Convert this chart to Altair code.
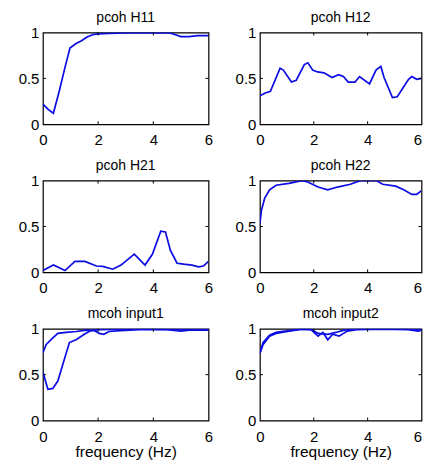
import altair as alt
import pandas as pd

# ---- data ----
freq_h11 = [0, 0.2, 0.38, 0.6, 0.8, 0.98, 1.2, 1.4, 1.6, 1.8, 2.0, 2.4, 3.0, 4.0, 4.6, 4.8, 5.0, 5.3, 5.6, 6.0]
coh_h11 = [0.22, 0.16, 0.12, 0.37, 0.62, 0.83, 0.88, 0.91, 0.95, 0.975, 0.985, 0.99, 0.995, 0.995, 0.995, 0.975, 0.955, 0.955, 0.965, 0.965]

freq_h12 = [0, 0.2, 0.39, 0.75, 0.87, 1.17, 1.35, 1.65, 1.78, 1.96, 2.14, 2.38, 2.68, 2.92, 3.1, 3.28, 3.53, 3.7, 4.07, 4.31, 4.49, 4.61, 4.92, 5.1, 5.52, 5.64, 5.82, 6.0]
coh_h12 = [0.31, 0.34, 0.36, 0.61, 0.59, 0.46, 0.48, 0.65, 0.67, 0.59, 0.57, 0.56, 0.51, 0.54, 0.52, 0.46, 0.46, 0.52, 0.44, 0.59, 0.63, 0.51, 0.29, 0.30, 0.49, 0.52, 0.49, 0.50]

freq_h21 = [0, 0.38, 0.8, 1.16, 1.52, 1.94, 2.17, 2.53, 2.83, 3.31, 3.7, 3.97, 4.27, 4.44, 4.62, 4.86, 5.1, 5.4, 5.64, 5.82, 6.0]
coh_h21 = [0.02, 0.08, 0.02, 0.12, 0.12, 0.07, 0.065, 0.035, 0.08, 0.20, 0.08, 0.20, 0.45, 0.44, 0.24, 0.10, 0.09, 0.08, 0.06, 0.07, 0.12]

freq_h22 = [0, 0.06, 0.18, 0.36, 0.6, 1.08, 1.56, 1.74, 2.16, 2.52, 2.88, 3.36, 3.72, 4.32, 4.56, 5.04, 5.34, 5.64, 5.82, 6.0]
coh_h22 = [0.53, 0.68, 0.81, 0.90, 0.95, 0.97, 1.0, 0.99, 0.93, 0.90, 0.93, 0.96, 1.0, 1.0, 0.96, 0.94, 0.90, 0.85, 0.85, 0.89]

freq_in1_a = [0, 0.18, 0.36, 0.54, 0.78, 0.96, 1.2, 1.5, 1.74, 2.04, 3.0, 4.0, 5.0, 6.0]
coh_in1_a = [0.53, 0.34, 0.35, 0.43, 0.67, 0.85, 0.88, 0.94, 0.98, 0.99, 0.995, 0.995, 0.99, 0.99]
freq_in1_b = [0, 0.12, 0.36, 0.54, 0.84, 1.2, 1.56, 1.86, 2.04, 2.2, 2.4, 2.8, 3.5, 4.5, 5.0, 5.3, 6.0]
coh_in1_b = [0.74, 0.83, 0.90, 0.95, 0.96, 0.97, 0.985, 0.98, 0.95, 0.94, 0.97, 0.98, 0.99, 0.99, 0.975, 0.985, 0.985]

freq_in2_a = [0, 0.12, 0.36, 0.6, 1.08, 1.56, 1.9, 2.16, 2.34, 2.52, 2.7, 2.94, 3.24, 3.6, 4.5, 5.5, 5.88, 6.0]
coh_in2_a = [0.73, 0.83, 0.92, 0.95, 0.975, 0.995, 0.99, 0.92, 0.96, 0.88, 0.94, 0.92, 0.975, 0.99, 0.995, 0.99, 0.975, 0.985]
freq_in2_b = [0, 0.12, 0.36, 0.6, 1.08, 1.56, 1.92, 2.16, 2.52, 2.82, 3.12, 3.5, 4.5, 5.5, 6.0]
coh_in2_b = [0.74, 0.85, 0.93, 0.96, 0.98, 0.995, 0.99, 0.95, 0.94, 0.96, 0.985, 0.995, 0.995, 0.995, 0.99]

titles = ["pcoh H11", "pcoh H12", "pcoh H21", "pcoh H22", "mcoh input1", "mcoh input2"]
x_ticks = [0, 2, 4, 6]
y_ticks = [0, 0.5, 1]
x_inner_ticks = [2, 4]
y_inner_ticks = [0.5]
x_label = "frequency (Hz)"

FONT = "Liberation Sans"
LINE = "#0b0be4"
H = 92
TICK = 3


def panel(title, series, width, bottom=False, right=False):
    rows = []
    for name, fx, fy in series:
        for a, b in zip(fx, fy):
            rows.append({"freq": a, "coh": b, "series": name})
    df = pd.DataFrame(rows)
    xs = alt.Scale(domain=[0, 6], nice=False, zero=False)
    ys = alt.Scale(domain=[0, 1], nice=False, zero=False)
    xaxis = dict(values=x_ticks, format="d", labelFlush=False, ticks=False,
                 domain=False, grid=False, labelPadding=8.5)
    if right:
        # keep the last label inside the page edge
        xaxis["labelAlign"] = {"condition": {"test": "datum.value === 6", "value": "right"},
                               "value": "center"}
    if bottom:
        xaxis["titlePadding"] = 0.5
        xenc = alt.X("freq:Q", scale=xs, axis=alt.Axis(**xaxis), title=x_label)
    else:
        xenc = alt.X("freq:Q", scale=xs, axis=alt.Axis(**xaxis), title=None)
    yenc = alt.Y("coh:Q", scale=ys,
                 axis=alt.Axis(values=y_ticks, format="~g", ticks=False, domain=False,
                               grid=False, labelPadding=4, labelFlush=False),
                 title=None)
    lines = (
        alt.Chart(df)
        .mark_line(color=LINE, strokeWidth=1.7, clip=True)
        .encode(x=xenc, y=yenc, detail="series:N", order="freq:Q")
    )
    xt = pd.DataFrame({"freq": x_inner_ticks})
    yt = pd.DataFrame({"coh": y_inner_ticks})
    tick_style = dict(color="black", strokeWidth=1)
    t_bottom = alt.Chart(xt).mark_rule(**tick_style).encode(
        x=xenc, y=alt.value(H), y2=alt.value(H - TICK))
    t_top = alt.Chart(xt).mark_rule(**tick_style).encode(
        x=xenc, y=alt.value(0), y2=alt.value(TICK))
    t_left = alt.Chart(yt).mark_rule(**tick_style).encode(
        y=yenc, x=alt.value(0), x2=alt.value(TICK))
    t_right = alt.Chart(yt).mark_rule(**tick_style).encode(
        y=yenc, x=alt.value(width - TICK), x2=alt.value(width))
    return (
        alt.layer(lines, t_bottom, t_top, t_left, t_right)
        .properties(width=width, height=H,
                    title=alt.TitleParams(title, fontSize=14, font=FONT, fontWeight="normal",
                                          anchor="middle", offset=1, color="black"))
    )


WL, WR = 166, 162
p1 = panel(titles[0], [("a", freq_h11, coh_h11)], WL)
p2 = panel(titles[1], [("a", freq_h12, coh_h12)], WR, right=True)
p3 = panel(titles[2], [("a", freq_h21, coh_h21)], WL)
p4 = panel(titles[3], [("a", freq_h22, coh_h22)], WR, right=True)
p5 = panel(titles[4], [("a", freq_in1_a, coh_in1_a), ("b", freq_in1_b, coh_in1_b)], WL, bottom=True)
p6 = panel(titles[5], [("a", freq_in2_a, coh_in2_a), ("b", freq_in2_b, coh_in2_b)], WR,
           bottom=True, right=True)

SH = 20.5
chart = (
    alt.vconcat(
        alt.hconcat(p1, p2, spacing=SH),
        alt.hconcat(p3, p4, spacing=SH),
        alt.hconcat(p5, p6, spacing=SH),
        spacing=8.5,
    )
    .properties(padding={"left": 9, "top": 1, "right": 0, "bottom": 0}, background="white")
    .configure_view(stroke="black", strokeWidth=1.2)
    .configure_axis(labelFont=FONT, labelFontSize=15, labelColor="black",
                    titleFont=FONT, titleFontSize=15.5, titleColor="black", titleFontWeight="normal")
)

chart.save("out.html", embed_options={"renderer": "svg", "actions": False})
